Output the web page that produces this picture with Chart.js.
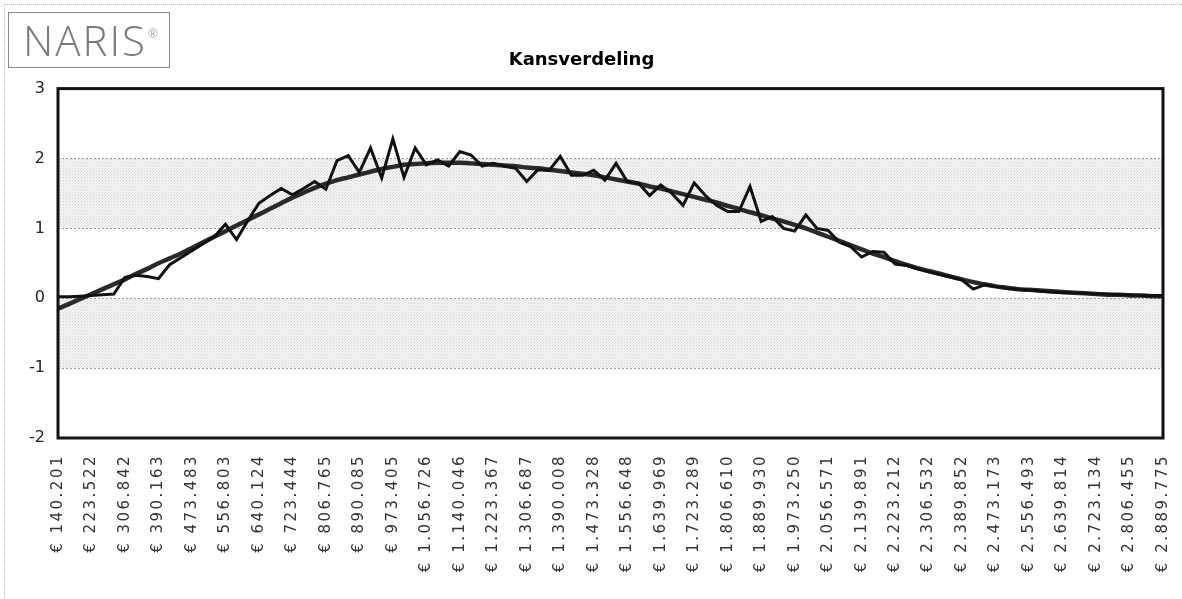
<!DOCTYPE html>
<html><head><meta charset="utf-8">
<script src="https://cdn.jsdelivr.net/npm/chart.js@4.4.1/dist/chart.umd.min.js"></script>
<style>
html,body{margin:0;padding:0;background:#fff;}
#wrap{position:relative;width:1182px;height:599px;overflow:hidden;background:#fff;}
#c{position:absolute;left:0;top:0;}
#frame{position:absolute;left:4px;top:4px;right:-2px;bottom:-2px;border-top:1px dotted #bdbdbd;border-left:1px dotted #bdbdbd;}
#logo{position:absolute;left:8px;top:12px;width:162px;height:56px;border:1px solid #8a8a8a;box-sizing:border-box;font-family:"Open Sans",sans-serif;font-weight:300;color:#7a7a7a;font-size:42px;line-height:54px;padding-left:14px;letter-spacing:2px;white-space:nowrap;}
#logo sup{font-size:12px;vertical-align:top;position:relative;top:-6px;margin-left:1px;letter-spacing:0;}
</style></head>
<body><div id="wrap"><div id="frame"></div><canvas id="c" width="1182" height="599"></canvas><div id="logo">NARIS<sup>®</sup></div></div>
<script>
const chartTitle = 'Kansverdeling';
const tickLabels = ["€ 140.201","€ 223.522","€ 306.842","€ 390.163","€ 473.483","€ 556.803","€ 640.124","€ 723.444","€ 806.765","€ 890.085","€ 973.405","€ 1.056.726","€ 1.140.046","€ 1.223.367","€ 1.306.687","€ 1.390.008","€ 1.473.328","€ 1.556.648","€ 1.639.969","€ 1.723.289","€ 1.806.610","€ 1.889.930","€ 1.973.250","€ 2.056.571","€ 2.139.891","€ 2.223.212","€ 2.306.532","€ 2.389.852","€ 2.473.173","€ 2.556.493","€ 2.639.814","€ 2.723.134","€ 2.806.455","€ 2.889.775"];
const pointsPerTick = 3;
const observedValues = [0.02,0.02,0.03,0.04,0.05,0.06,0.30,0.33,0.31,0.28,
0.48,0.58,0.68,0.78,0.88,1.06,0.84,1.11,1.36,1.47,
1.57,1.48,1.57,1.67,1.56,1.97,2.04,1.80,2.15,1.72,
2.28,1.73,2.15,1.91,1.98,1.89,2.10,2.05,1.89,1.93,
1.89,1.86,1.67,1.84,1.83,2.03,1.76,1.76,1.83,1.69,
1.93,1.67,1.65,1.47,1.62,1.50,1.33,1.65,1.47,1.33,
1.24,1.24,1.60,1.10,1.17,1.00,0.96,1.19,1.00,0.97,
0.80,0.74,0.59,0.67,0.66,0.49,0.47,0.42,0.38,0.34,
0.30,0.26,0.13,0.19,0.17,0.14,0.13,0.12,0.10,0.09,
0.08,0.08,0.07,0.06,0.06,0.05,0.05,0.04,0.04,0.04];
const fittedValues = [-0.15,-0.08,-0.01,0.06,0.13,0.20,0.27,0.35,0.42,0.50,
0.57,0.64,0.72,0.80,0.88,0.96,1.04,1.12,1.20,1.28,
1.36,1.44,1.51,1.58,1.64,1.69,1.73,1.77,1.81,1.85,
1.88,1.91,1.92,1.93,1.94,1.94,1.94,1.93,1.92,1.91,
1.90,1.89,1.87,1.86,1.84,1.82,1.80,1.78,1.76,1.73,
1.70,1.67,1.64,1.60,1.57,1.53,1.49,1.45,1.41,1.37,
1.32,1.28,1.23,1.19,1.14,1.10,1.05,1.00,0.94,0.88,
0.82,0.76,0.70,0.64,0.59,0.53,0.48,0.43,0.39,0.35,
0.31,0.27,0.23,0.20,0.17,0.15,0.13,0.12,0.11,0.10,
0.09,0.08,0.07,0.06,0.05,0.05,0.04,0.04,0.03,0.03];
const yMin = -2, yMax = 3;
const shadedBands = [[1,2],[-1,0]];
const gridValues = [2,1,0,-1];

function makePattern(ctx){
  const p = document.createElement('canvas'); p.width = 3; p.height = 3;
  const pc = p.getContext('2d');
  pc.fillStyle = '#f4f4f4'; pc.fillRect(0,0,3,3);
  pc.fillStyle = '#d2d2d2'; pc.fillRect(0,0,1,1);
  pc.fillStyle = '#e2e2e2'; pc.fillRect(2,1,1,1);
  pc.fillStyle = '#e8e8e8'; pc.fillRect(1,2,1,1);
  return ctx.createPattern(p,'repeat');
}

const decor = {
  id:'decor',
  afterLayout(chart){
    const s = chart.scales.x;
    if (!s._spaced){
      const orig = s.drawLabels;
      s.drawLabels = function(ca){
        const ctx = this.ctx; ctx.save(); ctx.letterSpacing = '2.5px'; orig.call(this, ca); ctx.restore();
      };
      s._spaced = true;
    }
  },
  beforeDatasetsDraw(chart){
    const {ctx, chartArea:a, scales:{y}} = chart;
    ctx.save();
    const pat = makePattern(ctx);
    shadedBands.forEach(([lo,hi])=>{
      const t = y.getPixelForValue(hi), b = y.getPixelForValue(lo);
      ctx.fillStyle = pat; ctx.fillRect(a.left, t, a.right-a.left, b-t);
    });
    ctx.strokeStyle = '#9a9a9a'; ctx.lineWidth = 1; ctx.setLineDash([2,2]);
    gridValues.forEach(v=>{
      const py = Math.round(y.getPixelForValue(v))+0.5;
      ctx.beginPath(); ctx.moveTo(a.left, py); ctx.lineTo(a.right, py); ctx.stroke();
    });
    ctx.restore();
  },
  afterDatasetsDraw(chart){
    const {ctx, chartArea:a} = chart;
    ctx.save();
    ctx.strokeStyle = '#111'; ctx.lineWidth = 3;
    ctx.strokeRect(a.left, a.top, a.right-a.left, a.bottom-a.top);
    ctx.restore();
  }
};

new Chart(document.getElementById('c'), {
  type:'line',
  data:{
    datasets:[
      {label:'waargenomen', data: observedValues.map((v,i)=>({x:i,y:v})), borderColor:'#111', borderWidth:3, pointRadius:0, tension:0, fill:false},
      {label:'verdeling', data: fittedValues.map((v,i)=>({x:i,y:v})), borderColor:'#2a2a2a', borderWidth:4.5, pointRadius:0, cubicInterpolationMode:'monotone', fill:false}
    ]
  },
  options:{
    responsive:false, animation:false, devicePixelRatio:1,
    layout:{padding:{left:0,right:19,top:0,bottom:0}},
    plugins:{
      legend:{display:false}, tooltip:{enabled:false},
      title:{display:true, text:chartTitle, color:'#000', font:{family:'DejaVu Sans', size:18, weight:'bold'}, padding:{top:50,bottom:17}}
    },
    scales:{
      x:{type:'linear', min:0, max:(tickLabels.length-1)*pointsPerTick,
        afterBuildTicks(s){ s.ticks = tickLabels.map((_,k)=>({value:k*pointsPerTick})); },
        afterFit(s){ s.height = 161; s.paddingLeft = 0; s.paddingRight = 0; },
        grid:{display:false}, border:{display:false},
        ticks:{autoSkip:false, minRotation:90, maxRotation:90, padding:8, color:'#333',
          font:{family:'DejaVu Sans', size:15},
          callback(v){ return tickLabels[Math.round(v/pointsPerTick)]; }}
      },
      y:{min:yMin, max:yMax,
        afterFit(s){ s.width = 58; s.paddingTop = 0; s.paddingBottom = 0; },
        grid:{display:false}, border:{display:false},
        ticks:{stepSize:1, padding:5, color:'#222', font:{family:'DejaVu Sans', size:16}}
      }
    }
  },
  plugins:[decor]
});
</script>
</body></html>
